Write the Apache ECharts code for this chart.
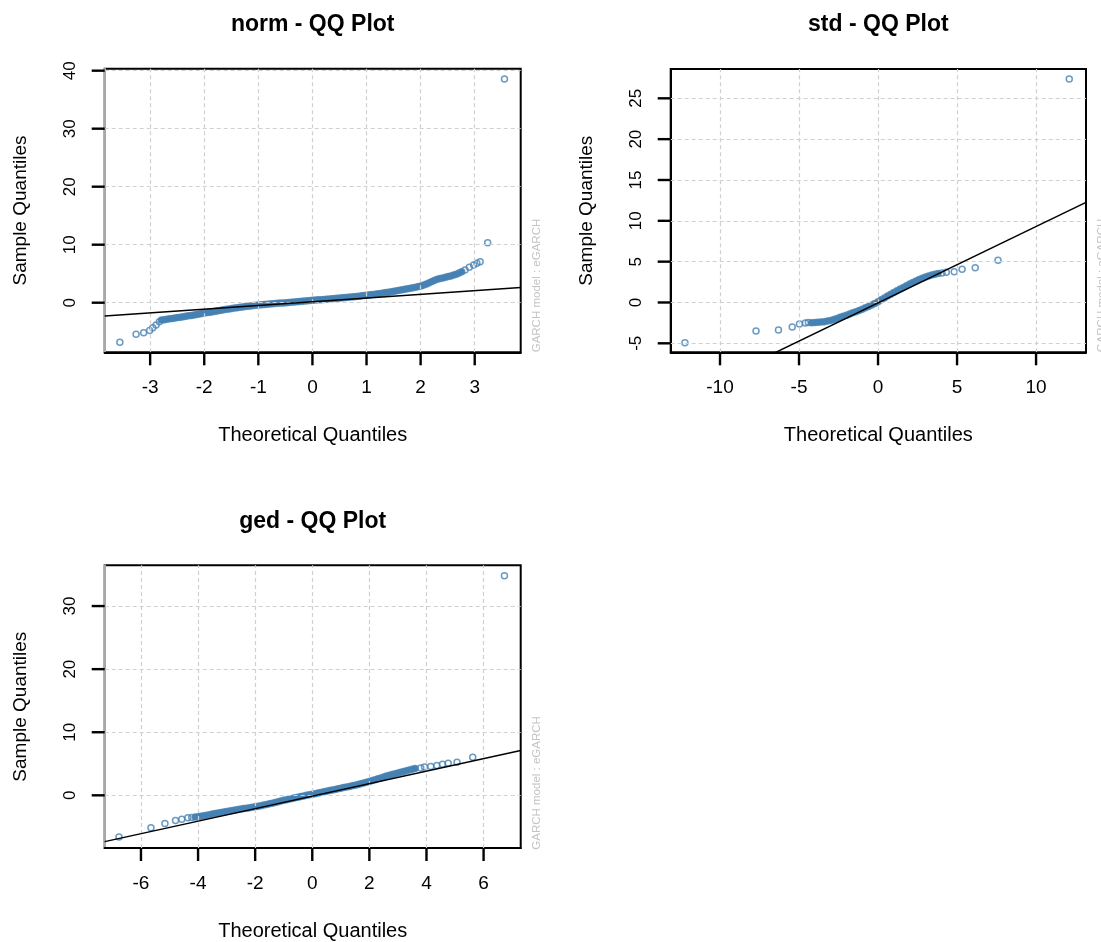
<!DOCTYPE html>
<html>
<head>
<meta charset="utf-8">
<title>QQ Plots</title>
<script src="https://cdn.jsdelivr.net/npm/echarts@6.0.0/dist/echarts.min.js"></script>
<style>
  html, body { margin: 0; padding: 0; background: #fff; }
  #chart { width: 1101px; height: 942px; }
</style>
</head>
<body>
<div id="chart"></div>
<script>
// ---- norm ----
const normX = [-3.56,-3.26,-3.12,-3.01,-2.95,-2.89,-2.83,
  -2.79,-2.74,-2.69,-2.64,-2.59,-2.54,-2.49,-2.44,-2.39,-2.34,
  -2.29,-2.24,-2.19,-2.14,-2.09,-2.04,-1.99,-1.94,-1.89,-1.84,
  -1.79,-1.74,-1.69,-1.64,-1.59,-1.54,-1.49,-1.44,-1.39,-1.34,
  -1.29,-1.24,-1.19,-1.14,-1.09,-1.04,-0.99,-0.94,-0.89,-0.84,
  -0.79,-0.74,-0.69,-0.64,-0.59,-0.54,-0.49,-0.44,-0.39,-0.34,
  -0.29,-0.24,-0.19,-0.14,-0.09,-0.04,0.01,0.06,0.11,0.16,
  0.21,0.26,0.31,0.36,0.41,0.46,0.51,0.56,0.61,0.66,
  0.71,0.76,0.81,0.86,0.91,0.96,1.01,1.06,1.11,1.16,
  1.21,1.26,1.31,1.36,1.41,1.46,1.51,1.56,1.61,1.66,
  1.71,1.76,1.81,1.86,1.91,1.96,2.01,2.06,2.11,2.16,
  2.21,2.26,2.31,2.36,2.41,2.46,2.51,2.56,2.61,2.66,
  2.71,2.76,
  2.82,2.90,2.98,3.04,3.10,3.24,3.55];
const normY = [-6.83,-5.45,-5.17,-4.78,-4.31,-3.84,-3.28,
  -3.00,-2.92,-2.85,-2.78,-2.71,-2.64,-2.57,-2.50,-2.42,-2.35,
  -2.27,-2.19,-2.11,-2.03,-1.95,-1.87,-1.79,-1.71,-1.63,-1.55,
  -1.47,-1.39,-1.31,-1.23,-1.15,-1.07,-0.99,-0.92,-0.85,-0.78,
  -0.72,-0.66,-0.60,-0.55,-0.50,-0.45,-0.40,-0.36,-0.31,-0.27,
  -0.23,-0.19,-0.15,-0.11,-0.07,-0.03,0.01,0.05,0.09,0.13,
  0.17,0.21,0.25,0.29,0.33,0.37,0.41,0.45,0.49,0.53,
  0.57,0.61,0.65,0.69,0.73,0.77,0.81,0.85,0.89,0.93,
  0.98,1.03,1.08,1.13,1.18,1.23,1.29,1.35,1.41,1.47,
  1.53,1.60,1.67,1.74,1.82,1.90,1.98,2.06,2.14,2.22,
  2.30,2.39,2.48,2.58,2.68,2.78,2.90,3.05,3.22,3.42,
  3.65,3.88,4.05,4.18,4.28,4.38,4.50,4.62,4.76,4.92,
  5.10,5.34,
  5.64,6.10,6.50,6.79,7.07,10.34,38.57];
const normBand = [7, 119];          // index range of the dense part of the sample
const normLine = [[-3.84, -2.30], [3.85, 2.62]];
const normXTicks = [-3, -2, -1, 0, 1, 2, 3];
const normYTicks = [0, 10, 20, 30, 40];

// ---- std ----
const stdX = [-12.22,-7.72,-6.30,-5.43,-4.97,-4.60,-4.41,
  -4.2,-4.0,-3.8,-3.6,-3.4,-3.2,-3.0,-2.8,-2.6,-2.4,
  -2.2,-2.0,-1.8,-1.6,-1.4,-1.2,-1.0,-0.8,-0.6,-0.4,
  -0.2,0.0,0.2,0.4,0.6,0.8,1.0,1.2,1.4,1.6,
  1.8,2.0,2.2,2.4,2.6,2.8,3.0,3.2,3.4,3.6,3.8,
  4.05,4.32,4.82,5.32,6.15,7.59,12.10];
const stdY = [-4.92,-3.50,-3.37,-3.00,-2.63,-2.50,-2.45,
  -2.47,-2.45,-2.43,-2.40,-2.35,-2.28,-2.20,-2.08,-1.95,-1.82,
  -1.69,-1.55,-1.40,-1.26,-1.12,-0.97,-0.83,-0.66,-0.50,-0.31,
  -0.12,0.10,0.32,0.55,0.78,1.00,1.22,1.44,1.65,1.85,
  2.05,2.25,2.45,2.64,2.82,2.98,3.12,3.25,3.37,3.47,3.55,
  3.62,3.70,3.77,4.06,4.26,5.17,27.37];
const stdBand = [7, 48];
const stdLine = [[-13.12, -12.32], [13.16, 12.25]];
const stdXTicks = [-10, -5, 0, 5, 10];
const stdYTicks = [-5, 0, 5, 10, 15, 20, 25];

// ---- ged ----
const gedX = [-6.77,-5.65,-5.16,-4.79,-4.57,-4.36,-4.22,
  -4.1,-4.0,-3.9,-3.8,-3.7,-3.6,-3.5,-3.4,-3.3,-3.2,
  -3.1,-3.0,-2.9,-2.8,-2.7,-2.6,-2.5,-2.4,-2.3,-2.2,
  -2.1,-2.0,-1.9,-1.8,-1.7,-1.6,-1.5,-1.4,-1.3,-1.2,
  -1.1,-1.0,-0.9,-0.8,-0.7,-0.6,-0.5,-0.4,-0.3,-0.2,
  -0.1,0.0,0.1,0.2,0.3,0.4,0.5,0.6,0.7,0.8,
  0.9,1.0,1.1,1.2,1.3,1.4,1.5,1.6,1.7,1.8,
  1.9,2.0,2.1,2.2,2.3,2.4,2.5,2.6,2.7,2.8,
  2.9,3.0,3.1,3.2,3.3,3.4,3.5,3.6,
  3.80,3.93,4.15,4.36,4.56,4.76,5.07,5.62,6.73];
const gedY = [-6.62,-5.14,-4.46,-3.99,-3.78,-3.56,-3.50,
  -3.45,-3.38,-3.31,-3.23,-3.15,-3.07,-2.98,-2.90,-2.82,-2.73,
  -2.65,-2.57,-2.48,-2.40,-2.32,-2.25,-2.18,-2.10,-2.03,-1.96,
  -1.90,-1.83,-1.74,-1.65,-1.55,-1.45,-1.35,-1.24,-1.13,-1.02,
  -0.91,-0.80,-0.70,-0.60,-0.50,-0.40,-0.30,-0.20,-0.10,0.00,
  0.08,0.15,0.25,0.35,0.45,0.55,0.65,0.75,0.84,0.94,
  1.03,1.12,1.22,1.31,1.41,1.51,1.61,1.72,1.83,1.94,
  2.07,2.20,2.33,2.47,2.62,2.75,2.90,3.05,3.18,3.30,
  3.42,3.54,3.66,3.78,3.90,4.02,4.14,4.25,
  4.35,4.47,4.57,4.73,4.94,5.10,5.26,6.05,34.82];
const gedBand = [7, 85];
const gedLine = [[-7.27, -7.34], [7.30, 7.09]];
const gedXTicks = [-6, -4, -2, 0, 2, 4, 6];
const gedYTicks = [0, 10, 20, 30];

const FONT = '"Liberation Sans", Arial, Helvetica, sans-serif';
const POINT_COLOR = '#4682B4';
const TICK_LEN = 13;
const TICK_W = 2.4;

const panels = [
  { title: 'norm - QQ Plot', xs: normX, ys: normY, band: normBand, line: normLine, xTicks: normXTicks, yTicks: normYTicks,
    grid: { left: 104.7, top: 68.7, width: 416, height: 283.6 },
    xMin: -3.84, xMax: 3.85, yMin: -8.55, yMax: 40.34, leftColor: '#a8a8a8' },
  { title: 'std - QQ Plot', xs: stdX, ys: stdY, band: stdBand, line: stdLine, xTicks: stdXTicks, yTicks: stdYTicks,
    grid: { left: 670.7, top: 69, width: 415.3, height: 283.3 },
    xMin: -13.12, xMax: 13.16, yMin: -6.1, yMax: 28.59, leftColor: '#000' },
  { title: 'ged - QQ Plot', xs: gedX, ys: gedY, band: gedBand, line: gedLine, xTicks: gedXTicks, yTicks: gedYTicks,
    grid: { left: 104.7, top: 565.3, width: 416, height: 284.4 },
    xMin: -7.27, xMax: 7.30, yMin: -8.35, yMax: 36.46, leftColor: '#a8a8a8' }
];

const grids = [], xAxes = [], yAxes = [], series = [], graphics = [];

panels.forEach((p, i) => {
  const g = p.grid;
  grids.push({
    left: g.left, top: g.top, width: g.width, height: g.height,
    show: true, borderColor: '#000', borderWidth: 2, backgroundColor: '#fff',
    containLabel: false
  });

  xAxes.push({
    type: 'value', gridIndex: i, min: p.xMin, max: p.xMax,
    name: 'Theoretical Quantiles', nameLocation: 'middle', nameGap: 73,
    nameTextStyle: { fontSize: 20, color: '#000', fontFamily: FONT },
    axisLine: { show: true, onZero: false, lineStyle: { color: '#000', width: 2 } },
    axisTick: { show: false },
    axisLabel: { customValues: p.xTicks, margin: 26, fontSize: 19, color: '#000', fontFamily: FONT },
    splitLine: { show: false }
  });

  yAxes.push({
    type: 'value', gridIndex: i, min: p.yMin, max: p.yMax,
    name: 'Sample Quantiles', nameLocation: 'middle', nameGap: 74,
    nameTextStyle: { fontSize: 19, color: '#000', fontFamily: FONT },
    axisLine: { show: true, onZero: false, lineStyle: { color: p.leftColor, width: 2 } },
    axisTick: { show: false },
    axisLabel: { customValues: p.yTicks, rotate: 90, margin: 26, fontSize: 17, color: '#000', fontFamily: FONT },
    splitLine: { show: false }
  });

  const gridLines = p.xTicks.map(v => ({ xAxis: v })).concat(p.yTicks.map(v => ({ yAxis: v })));
  const pts = p.xs.map((x, k) => [x, p.ys[k]]);

  // dense middle of the sample: overlapping circles read as a solid band
  series.push({
    type: 'scatter', xAxisIndex: i, yAxisIndex: i,
    data: pts.slice(p.band[0], p.band[1]),
    symbol: 'circle', symbolSize: 6,
    itemStyle: { color: POINT_COLOR, opacity: 1 },
    silent: true, z: 2
  });

  series.push({
    type: 'scatter', xAxisIndex: i, yAxisIndex: i,
    data: pts,
    symbol: 'circle', symbolSize: 6,
    itemStyle: { color: 'rgba(0,0,0,0)', borderColor: POINT_COLOR, borderWidth: 1.5 },
    silent: true, z: 3,
    markLine: {
      silent: true, symbol: ['none', 'none'], label: { show: false },
      lineStyle: { color: '#d0d0d0', type: [4, 3], width: 1.2 },
      emphasis: { disabled: true },
      data: gridLines
    }
  });

  series.push({
    type: 'line', xAxisIndex: i, yAxisIndex: i,
    data: p.line, showSymbol: false, symbol: 'none', clip: true,
    lineStyle: { color: '#000', width: 1.5 }, silent: true, z: 6
  });

  graphics.push({
    type: 'text', x: g.left + g.width / 2, y: g.top - 44,
    style: { text: p.title, fill: '#000', fontSize: 23, fontWeight: 'bold', fontFamily: FONT,
      align: 'center', verticalAlign: 'middle' }
  });
  graphics.push({
    type: 'text', x: g.left + g.width + 16, y: g.top + g.height, rotation: Math.PI / 2,
    style: { text: 'GARCH model : eGARCH', fill: '#c4c4c4', fontSize: 11.5, fontFamily: FONT,
      align: 'left', verticalAlign: 'middle' }
  });
});

const chart = echarts.init(document.getElementById('chart'), null, { renderer: 'canvas' });
chart.setOption({
  animation: false,
  backgroundColor: '#fff',
  grid: grids,
  xAxis: xAxes,
  yAxis: yAxes,
  series: series
});

// outward tick marks, positioned through each grid's axis scales
panels.forEach((p, i) => {
  p.xTicks.forEach(v => {
    const pt = chart.convertToPixel({ gridIndex: i }, [v, p.yMin]);
    graphics.push({
      type: 'rect', z: 100, silent: true,
      shape: { x: pt[0] - TICK_W / 2, y: pt[1], width: TICK_W, height: TICK_LEN },
      style: { fill: '#000' }
    });
  });
  p.yTicks.forEach(v => {
    const pt = chart.convertToPixel({ gridIndex: i }, [p.xMin, v]);
    graphics.push({
      type: 'rect', z: 100, silent: true,
      shape: { x: pt[0] - TICK_LEN, y: pt[1] - TICK_W / 2, width: TICK_LEN, height: TICK_W },
      style: { fill: '#000' }
    });
  });
});

chart.setOption({ graphic: { elements: graphics } });
</script>
</body>
</html>
